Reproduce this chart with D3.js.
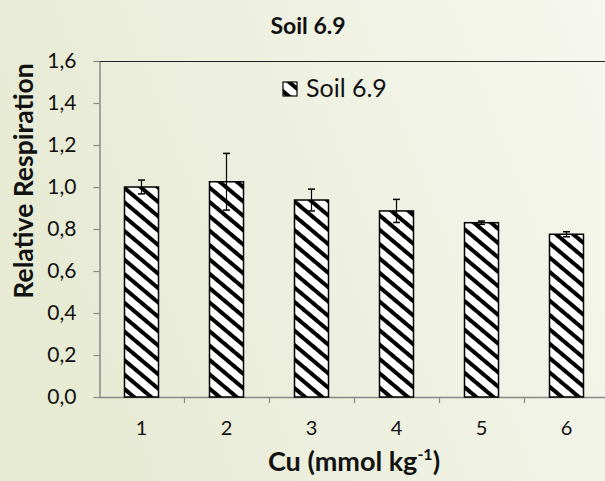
<html lang="en">
<head>
    <title>Soil 6.9</title>
    <script src="https://d3js.org/d3.v7.min.js"></script>
    <style>
        body { margin: 0; }
        text { font-family: Lato, "Open Sans", sans-serif; fill: #111; }
    </style>
</head>
<body>
<script>
    // data
    var categories = ['1', '2', '3', '4', '5', '6'];
    var respiration = [1.00, 1.025, 0.938, 0.886, 0.83, 0.775];
    var errors = [0.033, 0.135, 0.052, 0.055, 0.008, 0.012];
    var yTicks = [0, 0.2, 0.4, 0.6, 0.8, 1.0, 1.2, 1.4, 1.6];
    var seriesName = 'Soil 6.9';

    var width = 605, height = 481;
    var plotLeft = 99, plotRight = 609, plotTop = 61, plotBottom = 397;

    var svg = d3.select('body').append('svg')
        .attr('width', width).attr('height', height);

    var defs = svg.append('defs');

    // background gradient
    var grad = defs.append('linearGradient').attr('id', 'bg')
        .attr('x1', '0%').attr('y1', '30%').attr('x2', '100%').attr('y2', '0%');
    grad.append('stop').attr('offset', '0%').attr('stop-color', '#e7ebd4');
    grad.append('stop').attr('offset', '100%').attr('stop-color', '#f6f7ef');
    svg.append('rect').attr('width', width).attr('height', height).attr('fill', 'url(#bg)');

    // hatch (downward diagonal, fairly flat)
    var pat = defs.append('pattern').attr('id', 'hatch')
        .attr('patternUnits', 'userSpaceOnUse')
        .attr('width', 11).attr('height', 11)
        .attr('patternTransform', 'rotate(-50)');
    pat.append('rect').attr('width', 11).attr('height', 11).attr('fill', '#fff');
    pat.append('rect').attr('width', 4).attr('height', 11).attr('fill', '#000');

    // scales
    var x = d3.scaleBand().domain(categories).range([plotLeft, plotRight])
        .paddingInner(0.6).paddingOuter(0.3);
    var y = d3.scaleLinear().domain([0, 1.6]).range([plotBottom, plotTop]);

    // top border
    svg.append('line').attr('x1', plotLeft).attr('x2', width)
        .attr('y1', plotTop + 0.5).attr('y2', plotTop + 0.5)
        .attr('stroke', '#222').attr('stroke-width', 1.2);

    // y axis
    var yAxis = d3.axisLeft(y).tickValues(yTicks).tickSize(6).tickPadding(17).tickSizeOuter(0)
        .tickFormat(function (d) { return d3.format('.1f')(d).replace('.', ','); });
    var gy = svg.append('g').attr('transform', 'translate(' + (plotLeft + 0.5) + ',0)').call(yAxis);
    gy.select('.domain').attr('stroke', '#888').attr('stroke-width', 1.5);
    gy.selectAll('.tick line').attr('stroke', '#888').attr('stroke-width', 1.2);
    gy.selectAll('.tick text').attr('font-size', 21).attr('fill', '#111')
        .attr('font-family', 'Lato, sans-serif');

    // x axis (ticks at band edges)
    svg.append('line').attr('x1', plotLeft).attr('x2', width)
        .attr('y1', plotBottom + 0.5).attr('y2', plotBottom + 0.5)
        .attr('stroke', '#888').attr('stroke-width', 1.5);
    svg.selectAll('.xtick').data(categories.slice(1)).enter().append('line')
        .attr('x1', function (d) { return Math.round(x(d) - x.step() * 0.3) + 0.5; })
        .attr('x2', function (d) { return Math.round(x(d) - x.step() * 0.3) + 0.5; })
        .attr('y1', plotBottom).attr('y2', plotBottom + 6)
        .attr('stroke', '#888').attr('stroke-width', 1.2);
    svg.selectAll('.xlabel').data(categories).enter().append('text')
        .attr('x', function (d) { return x(d) + x.bandwidth() / 2; })
        .attr('y', 435).attr('text-anchor', 'middle').attr('font-size', 20)
        .text(function (d) { return d; });

    // bars
    svg.selectAll('.bar').data(respiration).enter().append('rect')
        .attr('x', function (d, i) { return x(categories[i]); })
        .attr('y', function (d) { return y(d); })
        .attr('width', x.bandwidth())
        .attr('height', function (d) { return y(0) - y(d); })
        .attr('fill', 'url(#hatch)').attr('stroke', '#000').attr('stroke-width', 1.5);

    // error bars
    var eb = svg.selectAll('.err').data(respiration).enter().append('g');
    eb.append('line')
        .attr('x1', function (d, i) { return x(categories[i]) + x.bandwidth() / 2; })
        .attr('x2', function (d, i) { return x(categories[i]) + x.bandwidth() / 2; })
        .attr('y1', function (d, i) { return y(d + errors[i]); })
        .attr('y2', function (d, i) { return y(d - errors[i]); })
        .attr('stroke', '#000').attr('stroke-width', 1.2);
    eb.append('line')
        .attr('x1', function (d, i) { return x(categories[i]) + x.bandwidth() / 2 - 3.5; })
        .attr('x2', function (d, i) { return x(categories[i]) + x.bandwidth() / 2 + 3.5; })
        .attr('y1', function (d, i) { return y(d + errors[i]); })
        .attr('y2', function (d, i) { return y(d + errors[i]); })
        .attr('stroke', '#000').attr('stroke-width', 1.5);
    eb.append('line')
        .attr('x1', function (d, i) { return x(categories[i]) + x.bandwidth() / 2 - 3.5; })
        .attr('x2', function (d, i) { return x(categories[i]) + x.bandwidth() / 2 + 3.5; })
        .attr('y1', function (d, i) { return y(d - errors[i]); })
        .attr('y2', function (d, i) { return y(d - errors[i]); })
        .attr('stroke', '#000').attr('stroke-width', 1.5);

    // legend
    svg.append('rect').attr('x', 283).attr('y', 82).attr('width', 14).attr('height', 14)
        .attr('fill', 'url(#hatch)').attr('stroke', '#000').attr('stroke-width', 1.2);
    svg.append('text').attr('x', 306).attr('y', 97).attr('font-size', 25).text(seriesName);

    // titles
    svg.append('text').attr('x', 308).attr('y', 34).attr('text-anchor', 'middle')
        .attr('font-size', 23).attr('font-weight', 'bold').text(seriesName);
    svg.append('text').attr('transform', 'translate(33,181) rotate(-90)')
        .attr('text-anchor', 'middle').attr('font-size', 26.5).attr('font-weight', 'bold')
        .text('Relative Respiration');
    var xt = svg.append('text').attr('x', 354).attr('y', 471).attr('text-anchor', 'middle')
        .attr('font-size', 27).attr('font-weight', 'bold');
    xt.append('tspan').text('Cu (mmol kg');
    xt.append('tspan').attr('font-size', 16).attr('dy', -11).text('-1');
    xt.append('tspan').attr('dy', 11).text(')');
</script>
</body>
</html>
